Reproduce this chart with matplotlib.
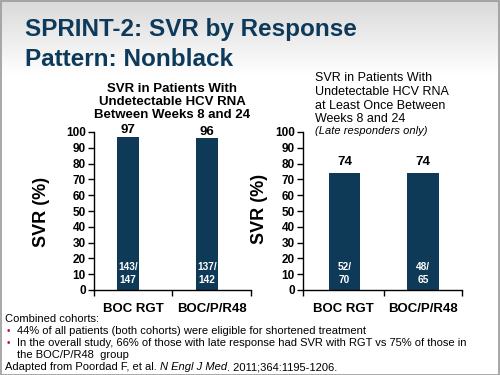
import numpy as np
import matplotlib
matplotlib.use('Agg')
import matplotlib.pyplot as plt
from matplotlib.patches import Rectangle

# Data
categories = ['BOC RGT', 'BOC/P/R48']
svr_early = [97, 96]
resp_early = [143, 137]
total_early = [147, 142]
svr_late = [74, 74]
resp_late = [52, 48]
total_late = [70, 65]
y_ticks = list(range(0, 101, 10))

TITLE_COLOR = '#0d3a5a'
BAR_COLOR = '#0e3a57'
BULLET_COLOR = '#c0182a'
W, H = 500, 375

plt.rcParams['font.family'] = ['Liberation Sans', 'DejaVu Sans']

fig = plt.figure(figsize=(5, 3.75), dpi=100)
fig.patch.set_facecolor('white')


def px(x, y):
	"""pixel (from top-left) -> figure fraction"""
	return x / W, 1 - y / H


def px_box(x0, y0, x1, y1):
	return [x0 / W, 1 - y1 / H, (x1 - x0) / W, (y1 - y0) / H]


# --- background: grey gradient at the top + thin frame ---
bg = fig.add_axes([0, 0, 1, 1], zorder=-10)
grad = np.ones((H, 1))
top = np.linspace(0.85, 1.0, 75)
grad[:75, 0] = top
bg.imshow(np.dstack([grad, grad, grad]), aspect='auto', extent=[0, W, H, 0])
bg.set_xlim(0, W)
bg.set_ylim(H, 0)
bg.axis('off')
fig.patches.append(Rectangle((0.001, 0.001), 0.997, 0.996, transform=fig.transFigure,
							 fill=False, edgecolor='#9a9a9a', linewidth=1.2))

# --- title ---
fig.text(*px(25, 36), 'SPRINT-2: SVR by Response', fontsize=17.5, fontweight='bold',
		 color=TITLE_COLOR, va='baseline', ha='left')
fig.text(*px(25, 66), 'Pattern: Nonblack', fontsize=17.5, fontweight='bold',
		 color=TITLE_COLOR, va='baseline', ha='left')


def draw_panel(box, xlim, mid, svr, resp, total, bar_width, top_offset):
	ax = fig.add_axes(px_box(*box))
	x = np.arange(len(svr))
	ax.bar(x, svr, width=bar_width, color=BAR_COLOR, zorder=2)
	ax.set_xlim(*xlim)
	ax.set_ylim(0, 100)
	ax.set_yticks(y_ticks)
	ax.tick_params(axis='y', direction='out', length=4, width=1, pad=2, labelsize=8.5)
	for lab in ax.get_yticklabels():
		lab.set_fontweight('bold')
	# category boundaries as ticks, category names centred between them
	bounds = [xlim[0], mid, xlim[1]]
	ax.set_xticks(bounds)
	ax.set_xticklabels(['', '', ''])
	ax.tick_params(axis='x', direction='out', length=4, width=1)
	centers = [(bounds[i] + bounds[i + 1]) / 2 for i in range(2)]
	ax.set_xticks(centers, minor=True)
	ax.set_xticklabels(categories, minor=True, fontsize=9.5, fontweight='bold')
	ax.tick_params(axis='x', which='minor', length=0, pad=9)
	for s in ['top', 'right']:
		ax.spines[s].set_visible(False)
	for s in ['left', 'bottom']:
		ax.spines[s].set_linewidth(1)
	ax.patch.set_alpha(0)
	for xi, v, r, t in zip(x, svr, resp, total):
		ax.annotate(f'{v}', (xi, v), xytext=(0, top_offset), textcoords='offset points',
					ha='center', va='bottom', fontsize=9.5, fontweight='bold')
		ax.annotate(f'{r}/\n{t}', (xi, 0), xytext=(0, 3.5), textcoords='offset points',
					ha='center', va='bottom', fontsize=7.3, fontweight='bold',
					color='white', linespacing=1.45)
	return ax


ax1 = draw_panel((94, 132, 251, 290), (-0.433, 1.554), 0.56, svr_early, resp_early,
				 total_early, 0.28, 0.5)
ax2 = draw_panel((303, 132, 462, 290), (-0.53, 1.495), 0.5, svr_late, resp_late,
				 total_late, 0.40, 4)

# y labels
fig.text(*px(42, 212), 'SVR (%)', rotation=90, fontsize=13, fontweight='bold',
		 ha='center', va='center')
fig.text(*px(260, 209), 'SVR (%)', rotation=90, fontsize=13, fontweight='bold',
		 ha='center', va='center')

# panel headings
left_head = ['SVR in Patients With', 'Undetectable HCV RNA', 'Between Weeks 8 and 24']
for line, y in zip(left_head, [91.5, 105, 118.5]):
	fig.text(*px(172, y), line, fontsize=9.5, fontweight='bold', ha='center', va='baseline')

right_head = ['SVR in Patients With', 'Undetectable HCV RNA', 'at Least Once Between',
			  'Weeks 8 and 24']
for line, y in zip(right_head, [81, 95, 109, 122.5]):
	fig.text(*px(315, y), line, fontsize=9, ha='left', va='baseline')
fig.text(*px(315, 134), '(Late responders only)', fontsize=8, style='italic',
		 ha='left', va='baseline')

# footnotes
fig.text(*px(5, 321.5), 'Combined cohorts:', fontsize=8, ha='left', va='baseline')
bullets = [
	('44% of all patients (both cohorts) were eligible for shortened treatment', 334),
	('In the overall study, 66% of those with late response had SVR with RGT vs 75% of those in', 346.5),
]
for txt, y in bullets:
	fig.text(*px(7, y), '\u2022', fontsize=7, color=BULLET_COLOR, ha='left', va='baseline')
	fig.text(*px(17, y), txt, fontsize=8, ha='left', va='baseline')
fig.text(*px(17, 358), 'the BOC/P/R48  group', fontsize=8, ha='left', va='baseline')

# reference line with italic journal name, pieces chained one after another
renderer = fig.canvas.get_renderer()
x_pos = 5
for piece, st in [('Adapted from Poordad F, et al. ', 'normal'), ('N Engl J Med', 'italic'),
				  ('. 2011;364:1195-1206.', 'normal')]:
	t = fig.text(*px(x_pos, 370.5), piece, fontsize=8, style=st, ha='left', va='baseline')
	x_pos += t.get_window_extent(renderer).width

fig.savefig('out.png', dpi=100)
